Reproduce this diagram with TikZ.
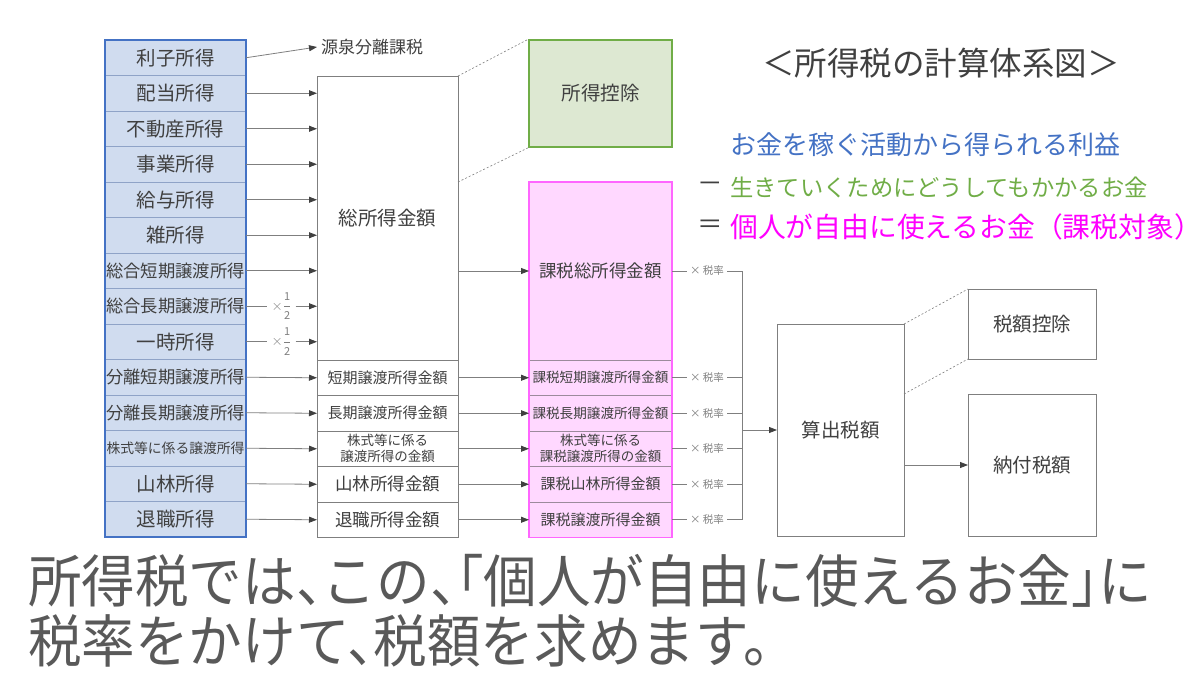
\documentclass[tikz,border=0pt]{standalone}
\usepackage{fontspec}
\usepackage{graphicx}
\setmainfont{Noto Sans CJK JP}
\usetikzlibrary{arrows.meta,calc}
\definecolor{txt}{HTML}{404040}
\definecolor{lnc}{HTML}{7F7F7F}
\definecolor{bluef}{HTML}{D0DCEF}
\definecolor{blueb}{HTML}{4472C4}
\definecolor{cellb}{HTML}{8FA3C7}
\definecolor{greenf}{HTML}{DDE8D2}
\definecolor{greenb}{HTML}{70AD47}
\definecolor{pinkf}{HTML}{FFD8FF}
\definecolor{pinkb}{HTML}{FF66FF}
\definecolor{pinksep}{HTML}{9C8A9C}
\definecolor{mag}{HTML}{FF00FF}
\definecolor{bottxt}{HTML}{595959}
\newcommand{\fsz}[1]{\fontsize{#1}{#1}\selectfont}
\newcommand{\halfx}{$\times{\displaystyle\frac{\mbox{\fsz{11}1}}{\mbox{\fsz{11}2}}}$}
\newcommand{\hk}{\kern-.5em}
\tikzset{
  cell/.style={draw=cellb, fill=bluef, line width=0.8pt, minimum width=141pt, minimum height=35.5pt, inner sep=0pt, outer sep=0pt, text=txt},
  mbox/.style={draw=lnc, fill=white, line width=0.8pt, inner sep=0pt, outer sep=0pt, text=txt},
  pbox/.style={draw=pinksep, fill=pinkf, line width=0.8pt, inner sep=0pt, outer sep=0pt, text=txt, minimum width=143pt, minimum height=35.5pt},
  arr/.style={draw=lnc, line width=0.8pt, -{Triangle[length=8pt,width=6pt,color=txt]}},
  pln/.style={draw=lnc, line width=0.8pt},
  dsh/.style={draw=lnc, line width=0.6pt, dash pattern=on 2pt off 2pt},
  rate/.style={font=\fsz{10.5}, text=lnc, inner sep=3pt},
}
\begin{document}
\begin{tikzpicture}[x=1pt,y=-1pt]
\useasboundingbox (0,0) rectangle (1200,675);
% left column
\foreach \i/\t/\s in {1/利子所得/19.5,2/配当所得/19.5,3/不動産所得/19.5,4/事業所得/19.5,5/給与所得/19.5,6/雑所得/19.5,7/総合短期譲渡所得/17.3,8/総合長期譲渡所得/17.3,9/一時所得/19.5,10/分離短期譲渡所得/17.3,11/分離長期譲渡所得/17.3,12/株式等に係る譲渡所得/13.8,13/山林所得/19.5,14/退職所得/19.5}
  \node[cell, font=\fsz{\s}] (L\i) at (175.5, 22.25+35.5*\i) {\t};
\draw[blueb, line width=2pt] (L1.north west) rectangle (L14.south east);
% middle column
\node[mbox, minimum width=141pt, minimum height=284pt, font=\fsz{19.5}] (M0) at (387.5,218) {総所得金額};
\node[mbox, minimum width=141pt, minimum height=35.5pt, font=\fsz{15}] (M1) at (387.5,377.75) {短期譲渡所得金額};
\node[mbox, minimum width=141pt, minimum height=35.5pt, font=\fsz{15}] (M2) at (387.5,413.25) {長期譲渡所得金額};
\node[mbox, minimum width=141pt, minimum height=35.5pt, align=center, font={\fontsize{13.5}{16}\selectfont}] (M3) at (387.5,448.75) {株式等に係る\\譲渡所得の金額};
\node[mbox, minimum width=141pt, minimum height=35.5pt, font=\fsz{17.5}] (M4) at (387.5,484.25) {山林所得金額};
\node[mbox, minimum width=141pt, minimum height=35.5pt, font=\fsz{17.5}] (M5) at (387.5,519.75) {退職所得金額};
% pink column
\node[pbox, minimum height=178pt, font=\fsz{17.5}] (P0) at (600.5,271) {課税総所得金額};
\node[pbox, font=\fsz{13.6}] (P1) at (600.5,377.75) {課税短期譲渡所得金額};
\node[pbox, font=\fsz{13.6}] (P2) at (600.5,413.25) {課税長期譲渡所得金額};
\node[pbox, align=center, font={\fontsize{13.5}{16}\selectfont}] (P3) at (600.5,448.75) {株式等に係る\\課税譲渡所得の金額};
\node[pbox, font=\fsz{15}] (P4) at (600.5,484.25) {課税山林所得金額};
\node[pbox, font=\fsz{15}] (P5) at (600.5,519.75) {課税譲渡所得金額};
\draw[pinkb, line width=1.5pt] (P0.north west) rectangle (P5.south east);
% green box
\node[draw=greenb, fill=greenf, line width=1.5pt, minimum width=143pt, minimum height=107pt, inner sep=0pt, font=\fsz{19.5}, text=txt] (G) at (600.5,93.5) {所得控除};
\draw[dsh] (M0.north east) -- (G.north west);
\draw[dsh] (M0.east |- P0.north) -- (G.south west);
% right boxes
\node[mbox, minimum width=127pt, minimum height=212pt, font=\fsz{19.5}] (S) at (840.5,430) {算出税額};
\node[mbox, minimum width=128pt, minimum height=70pt, font=\fsz{19.5}] (K) at (1032,324) {税額控除};
\node[mbox, minimum width=128pt, minimum height=142pt, font=\fsz{19.5}] (N) at (1032,465) {納付税額};
\draw[dsh] (S.north east) -- (K.north west);
\draw[dsh] (S.east |- N.north) -- (K.south west);
\draw[arr] (S.east |- N.west) -- (N.west);
% gensen
\node[anchor=west, font=\fsz{17}, text=txt, inner sep=4pt] (GS) at (317,47) {源泉分離課税};
\draw[arr] (L1.east) -- (GS.west);
% arrows left -> middle
\foreach \i in {2,...,7}
  \draw[arr] (L\i.east) -- (L\i.east -| M0.west);
\foreach \i in {8,9} {
  \node[font=\fsz{15}, text=lnc, inner sep=4pt] (H\i) at ($(L\i.east)!0.5!(L\i.east -| M0.west)$) {\halfx};
  \draw[pln] (L\i.east) -- (H\i.west);
  \draw[arr] (H\i.east) -- (L\i.east -| M0.west);
}
\foreach \i/\j in {10/1,11/2,12/3,13/4,14/5}
  \draw[arr] (L\i.east) -- (M\j.west);
% middle -> pink
\draw[arr] (M0.east |- P0.west) -- (P0.west);
\foreach \j in {1,...,5}
  \draw[arr] (M\j.east) -- (P\j.west);
% rates
\coordinate (VT) at ($(P0.east)+(70,0)$);
\coordinate (VB) at ($(P5.east)+(70,0)$);
\foreach \j in {0,...,5} {
  \node[rate] (T\j) at ($(P\j.east)+(35,0)$) {× 税率};
  \draw[pln] (P\j.east) -- (T\j.west);
  \draw[pln] (T\j.east) -- (T\j.east -| VT);
}
\draw[pln] (VT) -- (VB);
\draw[arr] (VT |- S.west) -- (S.west);
% title and legend
\node[font=\fsz{32.5}, text=txt] (TT) at (941,63) {＜所得税の計算体系図＞};
\node[anchor=west, font=\fsz{26}, text=blueb, inner sep=0pt] (B1) at (730,145) {お金を稼ぐ活動から得られる利益};
\node[anchor=west, font=\fsz{23.3}, text=greenb, inner sep=0pt] (B2) at (730,187) {生きていくためにどうしてもかかるお金};
\node[anchor=west, font=\fsz{27.8}, text=mag, inner sep=0pt] (B3) at (730,227) {個人が自由に使えるお金（課税対象）};
\node[font=\fsz{25.5}, text=txt, inner sep=0pt] (MN) at (710,187) {－};
\node[font=\fsz{25.5}, text=txt, inner sep=0pt] (EQ) at (710,227) {＝};
% bottom text
\node[anchor=west, text=bottxt, inner sep=0pt] (BT1) at (28,581) {\scalebox{0.94}[1]{\fsz{57}所得税では、\hk この、\hk\hk 「個人が自由に使えるお金」\hk に}};
\node[anchor=west, text=bottxt, inner sep=0pt] (BT2) at (28,641) {\scalebox{0.94}[1]{\fsz{57}税率をかけて、\hk 税額を求めます。}};
\end{tikzpicture}
\end{document}
